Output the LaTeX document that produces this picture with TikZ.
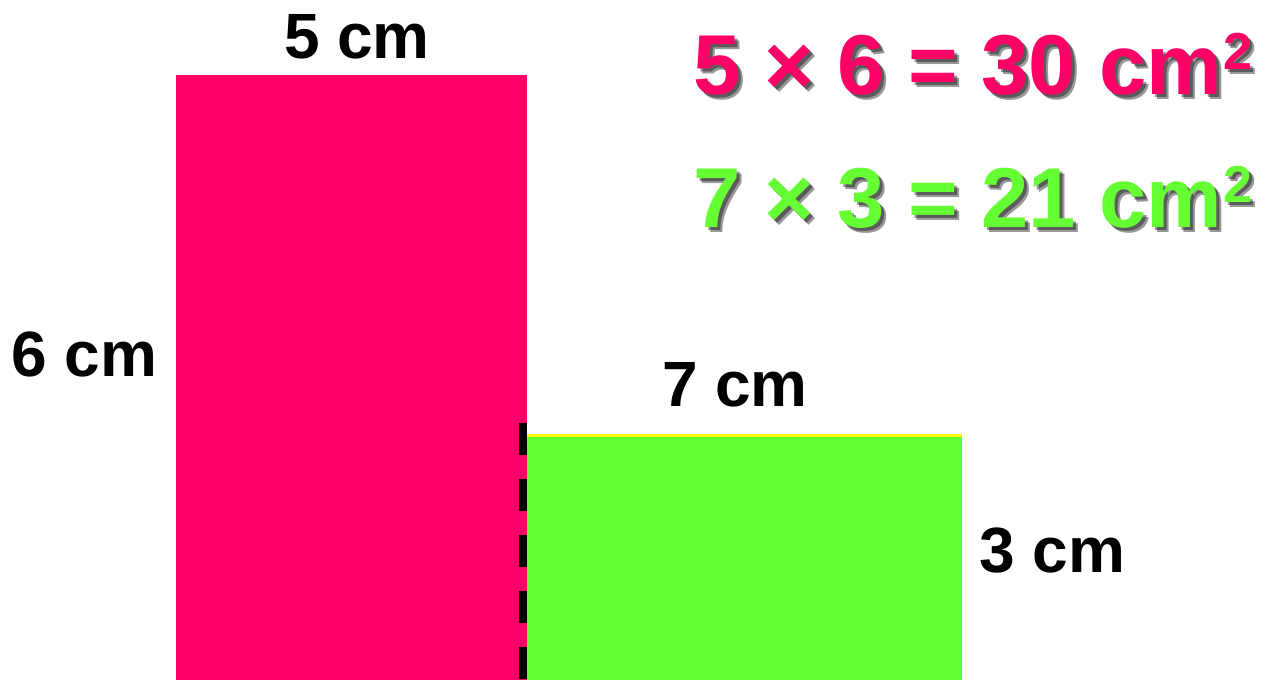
\documentclass[tikz,border=0pt]{standalone}
\usepackage{fontspec}
\setmainfont{Liberation Sans}
\definecolor{pinkc}{HTML}{FF0066}
\definecolor{greenc}{HTML}{66FF33}
\definecolor{yellowc}{HTML}{FFFF00}
\newcommand{\eqsup}{\kern1pt\raisebox{25pt}{\fontsize{52}{52}\selectfont\bfseries 2}}
\begin{document}
\begin{tikzpicture}[x=1pt,y=-1pt,
  lbl/.style={font=\fontsize{64}{64}\selectfont\bfseries, inner sep=0pt, text=black},
  eqn/.style={font=\fontsize{85}{85}\selectfont\bfseries, inner sep=0pt, anchor=base west},
  shadow/.style={text=black, opacity=0.4}]
\useasboundingbox (0,0) rectangle (1266,680);
\fill[white] (0,0) rectangle (1266,680);
% rectangles
\fill[pinkc] (176,75) rectangle (527,680);
\fill[greenc] (527,437) rectangle (962,680);
\fill[yellowc] (527,434) rectangle (962,437);
\coordinate (dtop) at (523,423);
\coordinate (dbot) at (523,680);
\draw[black, line width=8pt, dash pattern=on 32pt off 24pt] (dtop) -- (dbot);
% labels
\node[lbl, anchor=base] (w1) at (357,58) {5 cm};
\node[lbl, anchor=base west] (h1) at (11,376) {6 cm};
\node[lbl, anchor=base] (w2) at (735,406) {7 cm};
\node[lbl, anchor=base west] (h2) at (979,572) {3 cm};
% equations with soft shadow
\node[eqn, shadow] (e1s) at (696,97) {5 × 6 = 30 cm\eqsup};
\node[eqn, shadow] (e1t) at (698,99) {5 × 6 = 30 cm\eqsup};
\node[eqn, text=pinkc] (e1) at (693,94) {5 × 6 = 30 cm\eqsup};
\node[eqn, shadow] (e2s) at (696,230) {7 × 3 = 21 cm\eqsup};
\node[eqn, shadow] (e2t) at (698,232) {7 × 3 = 21 cm\eqsup};
\node[eqn, text=greenc] (e2) at (693,227) {7 × 3 = 21 cm\eqsup};
\end{tikzpicture}
\end{document}
